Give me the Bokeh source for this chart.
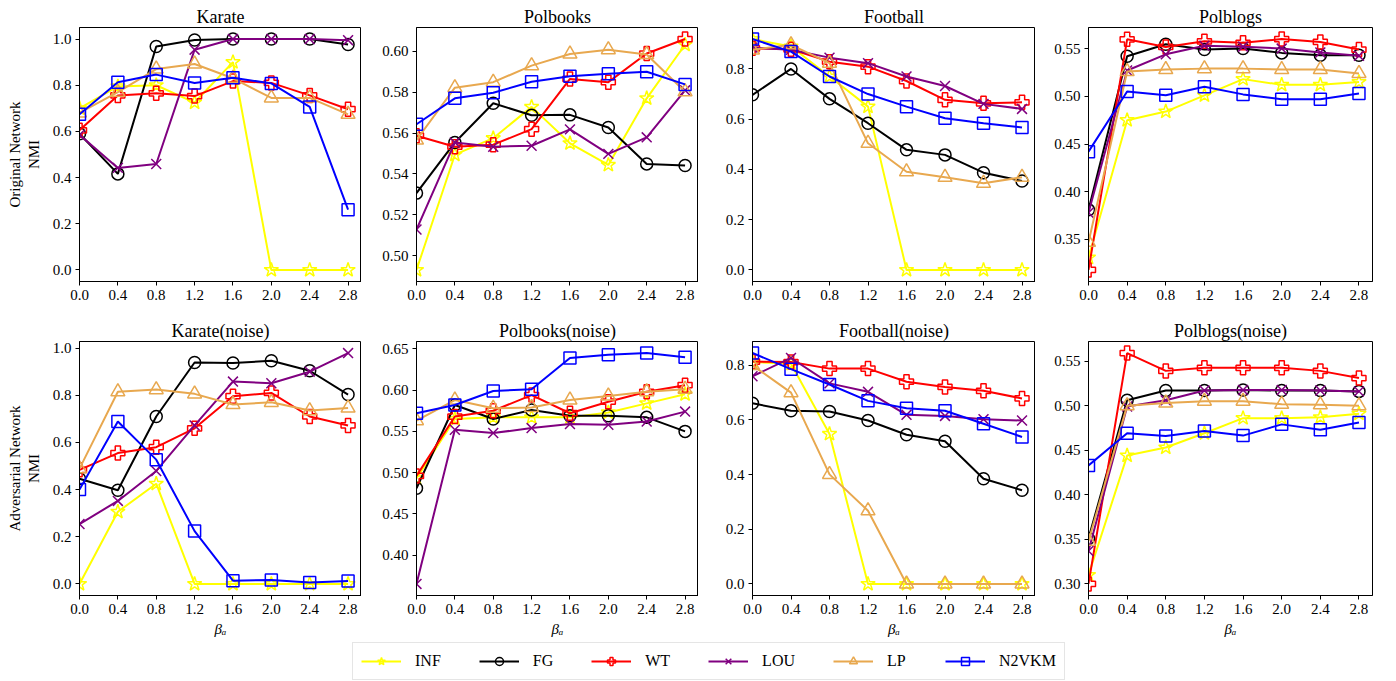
from bokeh.plotting import figure
from bokeh.layouts import column, row
from bokeh.models import Range1d, FixedTicker, PrintfTickFormatter, Legend, LegendItem
from bokeh.embed import file_html
from bokeh.resources import INLINE

# ---------------- data ----------------
beta = [0.0, 0.4, 0.8, 1.2, 1.6, 2.0, 2.4, 2.8]
x_ticks = [0.0, 0.4, 0.8, 1.2, 1.6, 2.0, 2.4, 2.8]
methods = ["INF", "FG", "WT", "LOU", "LP", "N2VKM"]

karate = {
    "INF":   [0.70, 0.795, 0.80, 0.725, 0.90, 0.0, 0.0, 0.0],
    "FG":    [0.59, 0.416, 0.968, 0.996, 1.0, 1.0, 1.0, 0.976],
    "WT":    [0.605, 0.756, 0.765, 0.753, 0.818, 0.81, 0.756, 0.696],
    "LOU":   [0.585, 0.442, 0.459, 0.954, 1.0, 1.0, 1.0, 0.995],
    "LP":    [0.68, 0.77, 0.87, 0.892, 0.83, 0.745, 0.745, 0.674],
    "N2VKM": [0.674, 0.813, 0.846, 0.81, 0.832, 0.808, 0.706, 0.261],
}
polbooks = {
    "INF":   [0.493, 0.5494, 0.5575, 0.5728, 0.555, 0.5444, 0.577, 0.6032],
    "FG":    [0.5306, 0.5554, 0.5746, 0.5687, 0.5689, 0.5627, 0.5449, 0.5441],
    "WT":    [0.5587, 0.5533, 0.5543, 0.5619, 0.5865, 0.5849, 0.5989, 0.606],
    "LOU":   [0.5128, 0.5554, 0.5533, 0.5538, 0.5618, 0.5498, 0.5579, 0.5809],
    "LP":    [0.5566, 0.5822, 0.5849, 0.593, 0.5987, 0.6008, 0.5984, 0.5802],
    "N2VKM": [0.5643, 0.577, 0.5797, 0.5851, 0.5878, 0.589, 0.590, 0.5838],
}
football = {
    "INF":   [0.919, 0.889, 0.77, 0.65, 0.0, 0.0, 0.0, 0.0],
    "FG":    [0.697, 0.80, 0.681, 0.584, 0.478, 0.458, 0.387, 0.354],
    "WT":    [0.882, 0.878, 0.829, 0.809, 0.752, 0.677, 0.663, 0.667],
    "LOU":   [0.885, 0.876, 0.845, 0.823, 0.77, 0.732, 0.661, 0.641],
    "LP":    [0.876, 0.896, 0.823, 0.504, 0.391, 0.369, 0.345, 0.369],
    "N2VKM": [0.919, 0.869, 0.77, 0.70, 0.65, 0.604, 0.584, 0.567],
}
polblogs = {
    "INF":   [0.331, 0.475, 0.484, 0.501, 0.518, 0.512, 0.512, 0.515],
    "FG":    [0.381, 0.542, 0.5545, 0.549, 0.55, 0.5455, 0.543, 0.543],
    "WT":    [0.318, 0.5597, 0.5517, 0.5576, 0.556, 0.560, 0.557, 0.549],
    "LOU":   [0.378, 0.527, 0.544, 0.553, 0.552, 0.55, 0.546, 0.5424],
    "LP":    [0.347, 0.526, 0.528, 0.529, 0.529, 0.528, 0.528, 0.524],
    "N2VKM": [0.442, 0.505, 0.501, 0.510, 0.502, 0.497, 0.497, 0.503],
}
karate_noise = {
    "INF":   [0.0, 0.306, 0.425, 0.0, 0.0, 0.0, 0.0, 0.0],
    "FG":    [0.446, 0.397, 0.71, 0.939, 0.937, 0.946, 0.904, 0.803],
    "WT":    [0.484, 0.555, 0.58, 0.66, 0.796, 0.81, 0.71, 0.672],
    "LOU":   [0.254, 0.352, 0.479, 0.672, 0.858, 0.851, 0.90, 0.979],
    "LP":    [0.489, 0.815, 0.824, 0.806, 0.761, 0.770, 0.735, 0.746],
    "N2VKM": [0.40, 0.689, 0.527, 0.224, 0.014, 0.017, 0.006, 0.013],
}
polbooks_noise = {
    "INF":   [0.493, 0.565, 0.567, 0.567, 0.567, 0.573, 0.584, 0.595],
    "FG":    [0.481, 0.582, 0.565, 0.576, 0.569, 0.569, 0.567, 0.55],
    "WT":    [0.496, 0.568, 0.575, 0.594, 0.572, 0.586, 0.598, 0.606],
    "LOU":   [0.365, 0.552, 0.548, 0.554, 0.559, 0.558, 0.562, 0.574],
    "LP":    [0.563, 0.588, 0.578, 0.579, 0.588, 0.593, 0.598, 0.601],
    "N2VKM": [0.572, 0.582, 0.599, 0.601, 0.639, 0.643, 0.645, 0.640],
}
football_noise = {
    "INF":   [0.812, 0.806, 0.549, 0.0, 0.0, 0.0, 0.0, 0.0],
    "FG":    [0.661, 0.634, 0.631, 0.598, 0.546, 0.522, 0.385, 0.343],
    "WT":    [0.814, 0.812, 0.788, 0.788, 0.74, 0.721, 0.707, 0.679],
    "LOU":   [0.76, 0.827, 0.734, 0.703, 0.619, 0.615, 0.603, 0.598],
    "LP":    [0.80, 0.70, 0.401, 0.268, 0.0, 0.0, 0.0, 0.0],
    "N2VKM": [0.845, 0.786, 0.73, 0.67, 0.643, 0.634, 0.586, 0.538],
}
polblogs_noise = {
    "INF":   [0.310, 0.444, 0.453, 0.469, 0.486, 0.486, 0.487, 0.491],
    "FG":    [0.351, 0.506, 0.517, 0.517, 0.5175, 0.517, 0.517, 0.516],
    "WT":    [0.300, 0.559, 0.539, 0.5425, 0.5425, 0.5425, 0.539, 0.531],
    "LOU":   [0.337, 0.499, 0.506, 0.517, 0.5175, 0.5175, 0.517, 0.516],
    "LP":    [0.348, 0.50, 0.503, 0.505, 0.505, 0.5015, 0.501, 0.50],
    "N2VKM": [0.433, 0.469, 0.466, 0.4716, 0.4664, 0.479, 0.473, 0.481],
}

ticks_karate = [0.0, 0.2, 0.4, 0.6, 0.8, 1.0]
ticks_polbooks = [0.50, 0.52, 0.54, 0.56, 0.58, 0.60]
ticks_football = [0.0, 0.2, 0.4, 0.6, 0.8]
ticks_polblogs = [0.35, 0.40, 0.45, 0.50, 0.55]
ticks_polbooks_noise = [0.40, 0.45, 0.50, 0.55, 0.60, 0.65]
ticks_polblogs_noise = [0.30, 0.35, 0.40, 0.45, 0.50, 0.55]

titles_top = ["Karate", "Polbooks", "Football", "Polblogs"]
titles_bottom = ["Karate(noise)", "Polbooks(noise)", "Football(noise)", "Polblogs(noise)"]
ylabel_top = "Original Network\nNMI"
ylabel_bottom = "Adversarial Network\nNMI"
xlabel = "\u03b2\u2090"

# ---------------- style ----------------
FONT = "Liberation Serif"
colors = {"INF": "#FFFF00", "FG": "#000000", "WT": "#FF0000",
          "LOU": "#800080", "LP": "#E8A84F", "N2VKM": "#0000FF"}
markers = {"INF": "star", "FG": "circle", "WT": "plus",
           "LOU": "x", "LP": "triangle", "N2VKM": "square"}
msize = {"INF": 15, "FG": 12, "WT": 14, "LOU": 14, "LP": 14, "N2VKM": 12}

FRAME_H = 254
widths = [361, 337, 337, 361]
lefts = [79, 55, 54, 53]
rights = [0, 0, 0, 24]


def make_panel(title, data, yticks, fmt, idx, top, bottom, ylabel=None, xlab=None):
    ys = [v for m in methods for v in data[m]]
    lo, hi = min(ys), max(ys)
    pad = 0.05 * (hi - lo)
    xspan = max(beta) - min(beta)
    p = figure(width=widths[idx], height=top + FRAME_H + bottom,
               output_backend="svg", toolbar_location=None,
               x_range=Range1d(min(beta), max(beta) + 0.05 * xspan),
               y_range=Range1d(lo - pad, hi + pad),
               min_border_left=lefts[idx], min_border_right=rights[idx],
               min_border_top=top, min_border_bottom=bottom, title=title)
    p.title.align = "center"
    p.title.text_font = FONT
    p.title.text_font_size = "18px"
    p.title.text_font_style = "normal"
    p.title.text_color = "#000000"
    p.title.standoff = 2
    p.grid.visible = False
    p.outline_line_color = "#000000"
    p.outline_line_width = 1
    p.background_fill_color = "#FFFFFF"
    p.border_fill_color = "#FFFFFF"
    p.xaxis.ticker = FixedTicker(ticks=x_ticks)
    p.xaxis.formatter = PrintfTickFormatter(format="%.1f")
    p.yaxis.ticker = FixedTicker(ticks=yticks)
    p.yaxis.formatter = PrintfTickFormatter(format=fmt)
    for ax in (p.xaxis[0], p.yaxis[0]):
        ax.major_tick_out = 4
        ax.major_tick_in = 0
        ax.minor_tick_out = 0
        ax.minor_tick_in = 0
        ax.axis_line_color = "#000000"
        ax.major_tick_line_color = "#000000"
        ax.major_label_text_font = FONT
        ax.major_label_text_font_size = "15px"
        ax.major_label_text_color = "#000000"
        ax.major_label_standoff = 4
        ax.axis_label_text_font = FONT
        ax.axis_label_text_font_size = "15px"
        ax.axis_label_text_font_style = "normal"
        ax.axis_label_text_color = "#000000"
    if ylabel:
        p.yaxis.axis_label = ylabel
        p.yaxis.axis_label_standoff = 8
    if xlab:
        p.xaxis.axis_label = xlab
        p.xaxis.axis_label_text_font_style = "italic"
        p.xaxis.axis_label_standoff = 4
    for m in methods:
        p.line(beta, data[m], line_color=colors[m], line_width=2)
        p.scatter(beta, data[m], marker=markers[m], size=msize[m],
                  line_color=colors[m], fill_alpha=0, line_width=1.5)
    return p


top_data = [(karate, ticks_karate, "%.1f"), (polbooks, ticks_polbooks, "%.2f"),
            (football, ticks_football, "%.1f"), (polblogs, ticks_polblogs, "%.2f")]
bot_data = [(karate_noise, ticks_karate, "%.1f"), (polbooks_noise, ticks_polbooks_noise, "%.2f"),
            (football_noise, ticks_football, "%.1f"), (polblogs_noise, ticks_polblogs_noise, "%.2f")]

row1 = []
for i, (d, t, f) in enumerate(top_data):
    row1.append(make_panel(titles_top[i], d, t, f, i, 27, 30,
                           ylabel=ylabel_top if i == 0 else None))
row2 = []
for i, (d, t, f) in enumerate(bot_data):
    row2.append(make_panel(titles_bottom[i], d, t, f, i, 30, 46,
                           ylabel=ylabel_bottom if i == 0 else None, xlab=xlabel))

# ---------------- legend ----------------
# The legend strip re-uses the Karate series, with its view window placed
# away from the data so that only the legend itself is visible.
lf = figure(width=1396, height=40, output_backend="svg", toolbar_location=None,
            x_range=Range1d(10, 11), y_range=Range1d(10, 11),
            x_axis_location=None, y_axis_location=None, min_border=0)
lf.grid.visible = False
lf.outline_line_color = None
items = []
for m in methods:
    lr = lf.line(beta, karate[m], line_color=colors[m], line_width=2)
    sr = lf.scatter(beta, karate[m], marker=markers[m], size=msize[m] - 3,
                    line_color=colors[m], fill_alpha=0, line_width=1.5)
    items.append(LegendItem(label=m, renderers=[lr, sr]))
leg = Legend(items=items, orientation="horizontal", location=(352, 1),
             glyph_width=40, glyph_height=20, label_standoff=14, spacing=38,
             padding=8, margin=0, label_text_font=FONT, label_text_font_size="16px",
             label_text_color="#000000", border_line_color="#CCCCCC",
             border_line_width=1, background_fill_color="#FFFFFF")
lf.add_layout(leg, "center")

layout = column(row(*row1), row(*row2), lf)
open("out.html", "w").write(file_html(layout, INLINE))
